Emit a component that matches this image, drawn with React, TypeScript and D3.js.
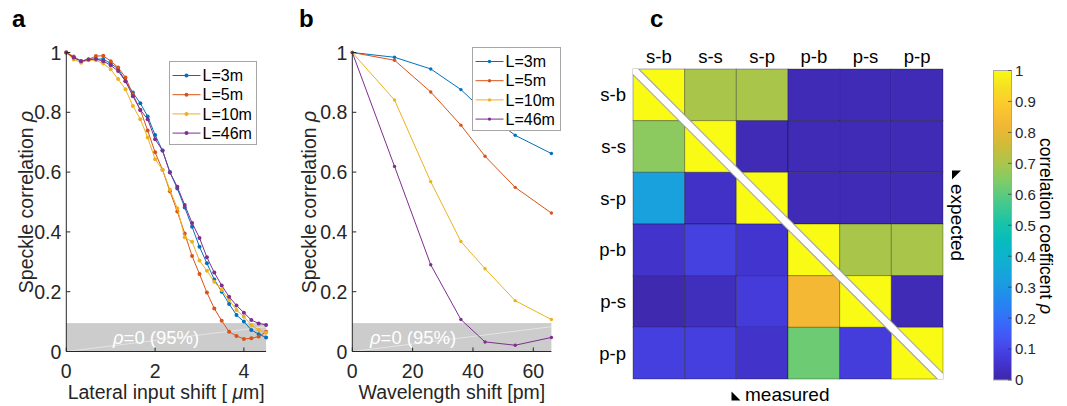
import React from "react";
import * as d3 from "d3";

// panel a: lateral input shift [um]
const lateralShift = [0, 0.167, 0.333, 0.5, 0.667, 0.833, 1, 1.167, 1.333, 1.5, 1.667, 1.833, 2, 2.167, 2.333, 2.5, 2.667, 2.833, 3, 3.167, 3.333, 3.5, 3.667, 3.833, 4, 4.167, 4.333, 4.5];
const lat3m = [1, 0.983, 0.971, 0.977, 0.978, 0.978, 0.963, 0.946, 0.904, 0.866, 0.83, 0.786, 0.724, 0.672, 0.6, 0.545, 0.482, 0.417, 0.35, 0.295, 0.241, 0.2, 0.159, 0.122, 0.1, 0.072, 0.058, 0.047];
const lat5m = [1, 0.987, 0.971, 0.977, 0.988, 0.989, 0.971, 0.95, 0.916, 0.86, 0.808, 0.739, 0.666, 0.608, 0.536, 0.468, 0.395, 0.319, 0.259, 0.197, 0.144, 0.103, 0.066, 0.052, 0.042, 0.044, 0.05, 0.066];
const lat10m = [1, 0.977, 0.966, 0.974, 0.974, 0.963, 0.944, 0.911, 0.877, 0.821, 0.777, 0.716, 0.643, 0.608, 0.541, 0.479, 0.382, 0.367, 0.304, 0.27, 0.233, 0.206, 0.172, 0.139, 0.116, 0.089, 0.072, 0.063];
const lat46m = [1, 0.983, 0.971, 0.977, 0.978, 0.971, 0.957, 0.938, 0.904, 0.854, 0.808, 0.777, 0.71, 0.672, 0.599, 0.551, 0.49, 0.43, 0.38, 0.315, 0.264, 0.221, 0.183, 0.154, 0.13, 0.105, 0.094, 0.089];

// panel b: wavelength shift [pm]
const wavelengthShift = [0, 14, 26, 36, 44, 54, 66];
const wl3m = [1, 0.984, 0.945, 0.876, 0.8, 0.723, 0.662];
const wl5m = [1, 0.974, 0.868, 0.757, 0.653, 0.549, 0.463];
const wl10m = [1, 0.841, 0.568, 0.368, 0.277, 0.17, 0.107];
const wl46m = [1, 0.619, 0.29, 0.107, 0.032, 0.021, 0.047];

const seriesNames = ["L=3m", "L=5m", "L=10m", "L=46m"];
const lineColors = ["#0072BD", "#D95319", "#EDB120", "#7E2F8E"];
const yTicks = [0, 0.2, 0.4, 0.6, 0.8, 1];
const noiseLevel = 0.095;
const noiseTrendEnd = 0.083;

// panel c: correlation between polarisation states
const polLabels = ["s-b", "s-s", "s-p", "p-b", "p-s", "p-p"];
const corrRows = [
  [1, 0.7, 0.7, 0.02, 0.02, 0.02],
  [0.66, 1, 0.02, 0.02, 0.02, 0.02],
  [0.33, 0.045, 1, 0.02, 0.02, 0.02],
  [0.05, 0.09, 0.055, 1, 0.7, 0.7],
  [0.01, 0.03, 0.075, 0.83, 1, 0.02],
  [0.085, 0.085, 0.05, 0.62, 0.08, 1],
];
const cbTicks = [0, 0.1, 0.2, 0.3, 0.4, 0.5, 0.6, 0.7, 0.8, 0.9, 1];

// parula-like colour stops
const parulaStops = [0, 0.063, 0.127, 0.19, 0.254, 0.317, 0.381, 0.444, 0.508, 0.571, 0.635, 0.698, 0.762, 0.825, 0.889, 0.952, 1];
const parulaColors = ["#3e26a8", "#4336d4", "#4750f2", "#366cfb", "#2487f0", "#1a9de0", "#10afd2", "#05bbbf", "#1ac3a8", "#45c98c", "#79cc6c", "#a8c64c", "#d1bb38", "#f4b735", "#fcc92e", "#f5e221", "#f9fb15"];

const font = "'Liberation Sans', Arial, Helvetica, sans-serif";
const axisColor = "#262626";
const tickSize = 19.5;

function LinePanel({ letter, letterX, xs, series, xDomain, xRange, xTicks, xLabel, yLabelX, legendX, legendY, legendW, rhoTextX, markerR }) {
  const x = d3.scaleLinear().domain(xDomain).range(xRange);
  const y = d3.scaleLinear().domain([0, 1]).range([351.5, 52.5]);
  const line = d3.line().x((d) => x(d[0])).y((d) => y(d[1]));
  const [x0, x1] = xRange;
  return (
    <g fontFamily={font}>
      <text x={letterX} y={27} fontSize={24} fontWeight="bold" fill="#000">{letter}</text>
      {/* noise band */}
      <rect x={x0} y={y(noiseLevel)} width={x1 - x0} height={y(0) - y(noiseLevel)} fill="#cccccc" />
      <line x1={x(xDomain[0])} y1={y(0)} x2={x(xDomain[1])} y2={y(noiseTrendEnd)} stroke="#ffffff" strokeOpacity={0.45} strokeWidth={1} />
      <text x={rhoTextX} y={344} fontSize={18.5} fill="#ffffff">
        <tspan fontStyle="italic">ρ</tspan>=0 (95%)
      </text>
      {series.map((vals, k) => {
        const pts = xs.map((xv, i) => [xv, vals[i]]);
        return (
          <g key={k}>
            <path d={line(pts)} fill="none" stroke={lineColors[k]} strokeWidth={1} />
            {pts.map((p, i) => (
              <circle key={i} cx={x(p[0])} cy={y(p[1])} r={markerR} fill={lineColors[k]} />
            ))}
          </g>
        );
      })}
      {/* axes */}
      <line x1={x0} y1={y(0)} x2={x1} y2={y(0)} stroke={axisColor} />
      <line x1={x0} y1={y(0)} x2={x0} y2={y(1)} stroke={axisColor} />
      {yTicks.map((t) => (
        <g key={t}>
          <line x1={x0} x2={x0 + 4} y1={y(t)} y2={y(t)} stroke={axisColor} />
          <text x={x0 - 5} y={y(t)} dy="0.36em" textAnchor="end" fontSize={tickSize} fill={axisColor}>{t}</text>
        </g>
      ))}
      {xTicks.map((t) => (
        <g key={t}>
          <line x1={x(t)} x2={x(t)} y1={y(0)} y2={y(0) - 4} stroke={axisColor} />
          <text x={x(t)} y={377.5} textAnchor="middle" fontSize={tickSize} fill={axisColor}>{t}</text>
        </g>
      ))}
      <text x={(x0 + x1) / 2} y={399} textAnchor="middle" fontSize={tickSize} fill={axisColor}>{xLabel}</text>
      <text transform={`translate(${yLabelX},${(y(0) + y(1)) / 2}) rotate(-90)`} textAnchor="middle" fontSize={tickSize} fill={axisColor}>
        Speckle correlation <tspan fontStyle="italic">ρ</tspan>
      </text>
      {/* legend */}
      <rect x={legendX} y={legendY} width={legendW} height={83} fill="#ffffff" stroke="#a6a6a6" strokeWidth={1} />
      {seriesNames.map((name, k) => {
        const ly = legendY + 14 + k * 19.2;
        return (
          <g key={name}>
            <line x1={legendX + 3} x2={legendX + 31} y1={ly} y2={ly} stroke={lineColors[k]} strokeWidth={1} />
            <circle cx={legendX + 17} cy={ly} r={markerR} fill={lineColors[k]} />
            <text x={legendX + 33} y={ly} dy="0.36em" fontSize={16} fill="#000">{name}</text>
          </g>
        );
      })}
    </g>
  );
}

function Heatmap() {
  const color = d3.scaleLinear().domain(parulaStops).range(parulaColors).interpolate(d3.interpolateRgb).clamp(true);
  const col = d3.scaleBand().domain(polLabels).range([633, 943]);
  const row = d3.scaleBand().domain(polLabels).range([69, 379]);
  const cb = d3.scaleLinear().domain([0, 1]).range([380, 70.5]);
  const gradStops = d3.range(0, 1.0001, 0.02);
  return (
    <g fontFamily={font}>
      <defs>
        <linearGradient id="parula" x1="0" y1="1" x2="0" y2="0">
          {gradStops.map((s) => (
            <stop key={s} offset={s} stopColor={color(s)} />
          ))}
        </linearGradient>
        <clipPath id="hmClip">
          <rect x={633} y={69} width={310} height={310} />
        </clipPath>
      </defs>
      <text x={650} y={27} fontSize={24} fontWeight="bold" fill="#000">c</text>
      {corrRows.map((r, i) =>
        r.map((v, j) => (
          <rect key={`${i}-${j}`} x={col(polLabels[j])} y={row(polLabels[i])} width={col.bandwidth()} height={row.bandwidth()}
            fill={color(v)} stroke="#000" strokeOpacity={0.3} strokeWidth={1} />
        ))
      )}
      <g clipPath="url(#hmClip)">
        <line x1={633} y1={69} x2={943} y2={379} stroke="#9a9a9a" strokeWidth={9} />
        <line x1={633} y1={69} x2={943} y2={379} stroke="#ffffff" strokeWidth={7} />
      </g>
      {polLabels.map((p) => (
        <text key={"c" + p} x={col(p) + col.bandwidth() / 2} y={63} textAnchor="middle" fontSize={18.5} fill="#000">{p}</text>
      ))}
      {polLabels.map((p) => (
        <text key={"r" + p} x={626} y={row(p) + row.bandwidth() / 2} dy="0.36em" textAnchor="end" fontSize={18.5} fill="#000">{p}</text>
      ))}
      {/* measured / expected */}
      <path d="M731.5,391.5 L731.5,400.5 L740.5,400.5 Z" fill="#000" />
      <text x={745} y={401} fontSize={19} fill="#000">measured</text>
      <path d="M952,170.5 L961,170.5 L952,179.5 Z" fill="#000" />
      <text transform="translate(950.5,184) rotate(90)" fontSize={19} fill="#000">expected</text>
      {/* colour bar */}
      <rect x={993.5} y={70.5} width={18} height={309.5} fill="url(#parula)" stroke="#a6a6a6" strokeWidth={1} />
      {cbTicks.map((t) => (
        <g key={t}>
          <line x1={1011.5} x2={1008} y1={cb(t)} y2={cb(t)} stroke={axisColor} strokeOpacity={0.6} />
          <text x={1015} y={cb(t)} dy="0.36em" fontSize={15} fill={axisColor}>{t}</text>
        </g>
      ))}
      <text transform="translate(1040,226) rotate(90)" textAnchor="middle" fontSize={17.5} fill="#000">
        correlation coefficent <tspan fontStyle="italic">ρ</tspan>
      </text>
    </g>
  );
}

export default function App() {
  return (
    <svg width={1067} height={406} style={{ position: "absolute", left: 0, top: 0, background: "#fff" }}>
      <rect width={1067} height={406} fill="#fff" />
      <LinePanel letter="a" letterX={12} xs={lateralShift} series={[lat3m, lat5m, lat10m, lat46m]}
        xDomain={[0, 4.5]} xRange={[66.3, 266.1]} xTicks={[0, 2, 4]}
        xLabel={<>Lateral input shift [ <tspan fontStyle="italic">μ</tspan>m]</>}
        yLabelX={33} legendX={169.5} legendY={61.5} legendW={87} rhoTextX={113} markerR={2} />
      <LinePanel letter="b" letterX={299} xs={wavelengthShift} series={[wl3m, wl5m, wl10m, wl46m]}
        xDomain={[0, 66]} xRange={[352.3, 551.4]} xTicks={[0, 20, 40, 60]}
        xLabel="Wavelength shift [pm]"
        yLabelX={316} legendX={472.5} legendY={47.5} legendW={88} rhoTextX={370} markerR={1.7} />
      <Heatmap />
    </svg>
  );
}
